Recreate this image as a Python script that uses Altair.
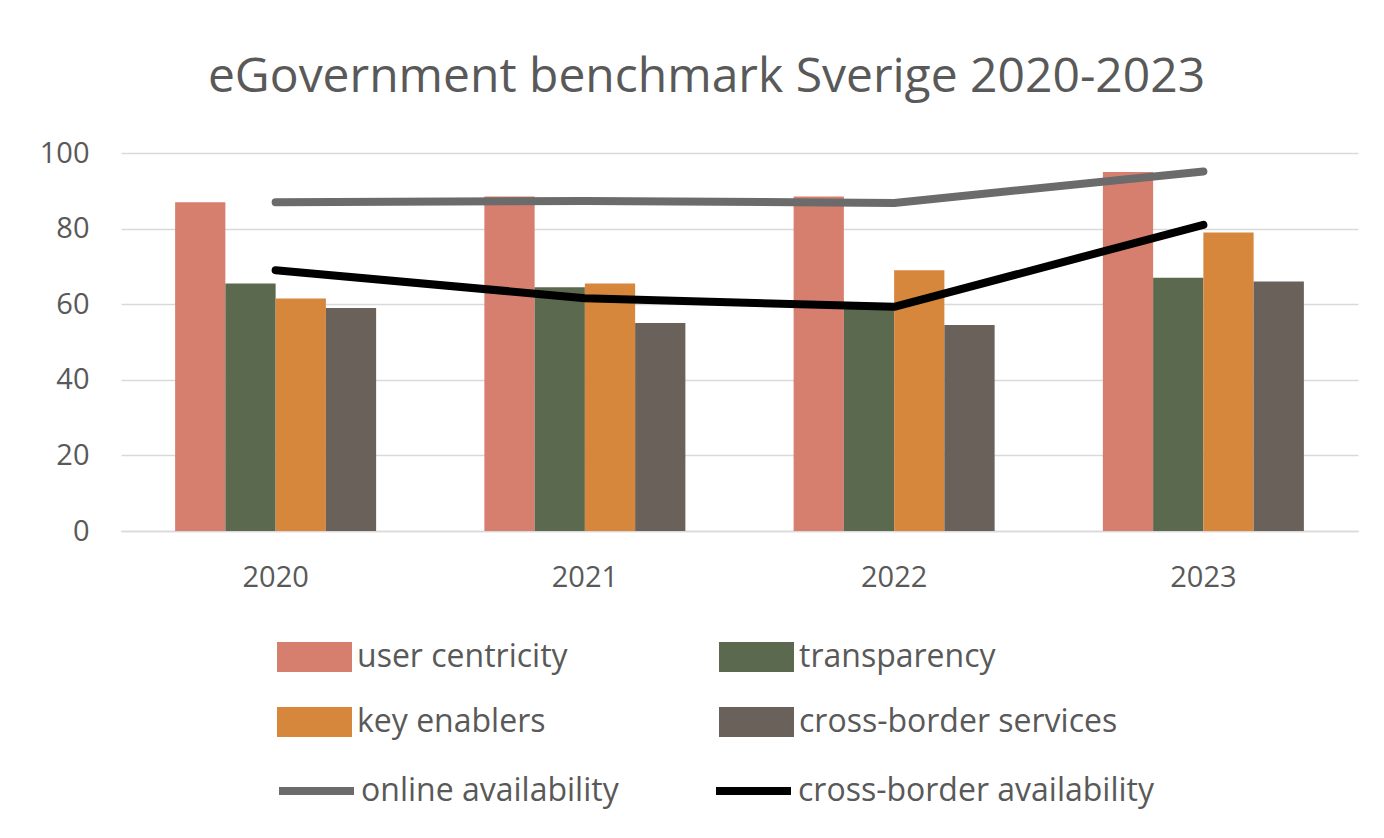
import altair as alt
import pandas as pd

years = ["2020", "2021", "2022", "2023"]
user_centricity = [87.0, 88.5, 88.5, 95.0]
transparency = [65.5, 64.5, 59.0, 67.0]
key_enablers = [61.5, 65.5, 69.0, 79.0]
cross_border_services = [59.0, 55.0, 54.5, 66.0]
online_availability = [87.0, 87.3, 86.8, 95.1]
cross_border_availability = [69.0, 61.6, 59.3, 81.0]

bar_series = ["user centricity", "transparency", "key enablers", "cross-border services"]
bar_colors = {"user centricity": "#D77F6F", "transparency": "#5B694E",
              "key enablers": "#D6873B", "cross-border services": "#6A615B"}
# legend fills column by column: order so rows read like the reference
legend_order = ["user centricity", "key enablers", "transparency", "cross-border services"]
line_series = ["online availability", "cross-border availability"]
line_colors = ["#6B6B6B", "#000000"]

bar_values = [user_centricity, transparency, key_enablers, cross_border_services]
line_values = [online_availability, cross_border_availability]

bars_df = pd.DataFrame(
    [{"year": y, "bar": s, "value": v[i]} for s, v in zip(bar_series, bar_values) for i, y in enumerate(years)]
)
lines_df = pd.DataFrame(
    [{"year": y, "line": s, "value": v[i]} for s, v in zip(line_series, line_values) for i, y in enumerate(years)]
)

FONT = "Open Sans"
TXT = "#595959"
GRID = "#d9d9d9"

x_enc = alt.X(
    "year:N",
    sort=years,
    scale=alt.Scale(paddingInner=0.35, paddingOuter=0.175),
    axis=alt.Axis(
        title=None, labelAngle=0, labelFontSize=29, labelFont=FONT, labelColor=TXT,
        labelPadding=32, ticks=False, domainColor=GRID, domainWidth=1.5, grid=False,
    ),
)
y_enc = alt.Y(
    "value:Q",
    scale=alt.Scale(domain=[0, 100]),
    axis=alt.Axis(
        title=None, values=[0, 20, 40, 60, 80, 100], labelFontSize=29, labelFont=FONT,
        labelColor=TXT, labelPadding=32, ticks=False, domain=False,
        gridColor=GRID, gridWidth=1.5,
    ),
)

bars = alt.Chart(bars_df).mark_bar().encode(
    x=x_enc,
    y=y_enc,
    xOffset=alt.XOffset("bar:N", sort=bar_series, scale=alt.Scale(paddingInner=0, paddingOuter=0)),
    color=alt.Color(
        "bar:N",
        scale=alt.Scale(domain=legend_order, range=[bar_colors[s] for s in legend_order]),
        legend=alt.Legend(
            title=None, orient="none", legendX=156, legendY=486, columns=2,
            symbolType="M-1,-0.4H1V0.4H-1Z", symbolSize=5625, symbolStrokeWidth=0,
            symbolOpacity=1, labelFont=FONT, labelFontSize=32, labelColor=TXT,
            labelOffset=5, labelLimit=600, clipHeight=36, rowPadding=29,
            columnPadding=151, padding=0,
        ),
    ),
)

lines = alt.Chart(lines_df).mark_line(strokeWidth=8, strokeCap="round", strokeJoin="round").encode(
    x=x_enc,
    y=y_enc,
    stroke=alt.Stroke(
        "line:N",
        scale=alt.Scale(domain=line_series, range=line_colors),
        legend=alt.Legend(
            title=None, orient="none", legendX=154, legendY=620, columns=2,
            symbolType="stroke", symbolSize=5625, symbolStrokeWidth=8,
            labelFont=FONT, labelFontSize=32, labelColor=TXT, labelLimit=600,
            labelOffset=3, clipHeight=36, columnPadding=93, padding=0,
        ),
    ),
)

chart = alt.layer(bars, lines).properties(
    width=1237,
    height=378,
    padding={"left": 113, "top": 145, "right": 10, "bottom": 285},
    autosize=alt.AutoSizeParams(type="none"),
    title=alt.TitleParams(
        "eGovernment benchmark Sverige 2020-2023", font=FONT, fontSize=48,
        fontWeight="normal", color=TXT, anchor="middle", frame="group", dx=-33,
        dy=47, offset=46, baseline="alphabetic",
    ),
).configure_view(stroke=None)

chart.save("out.html", embed_options={"renderer": "svg", "actions": False})
